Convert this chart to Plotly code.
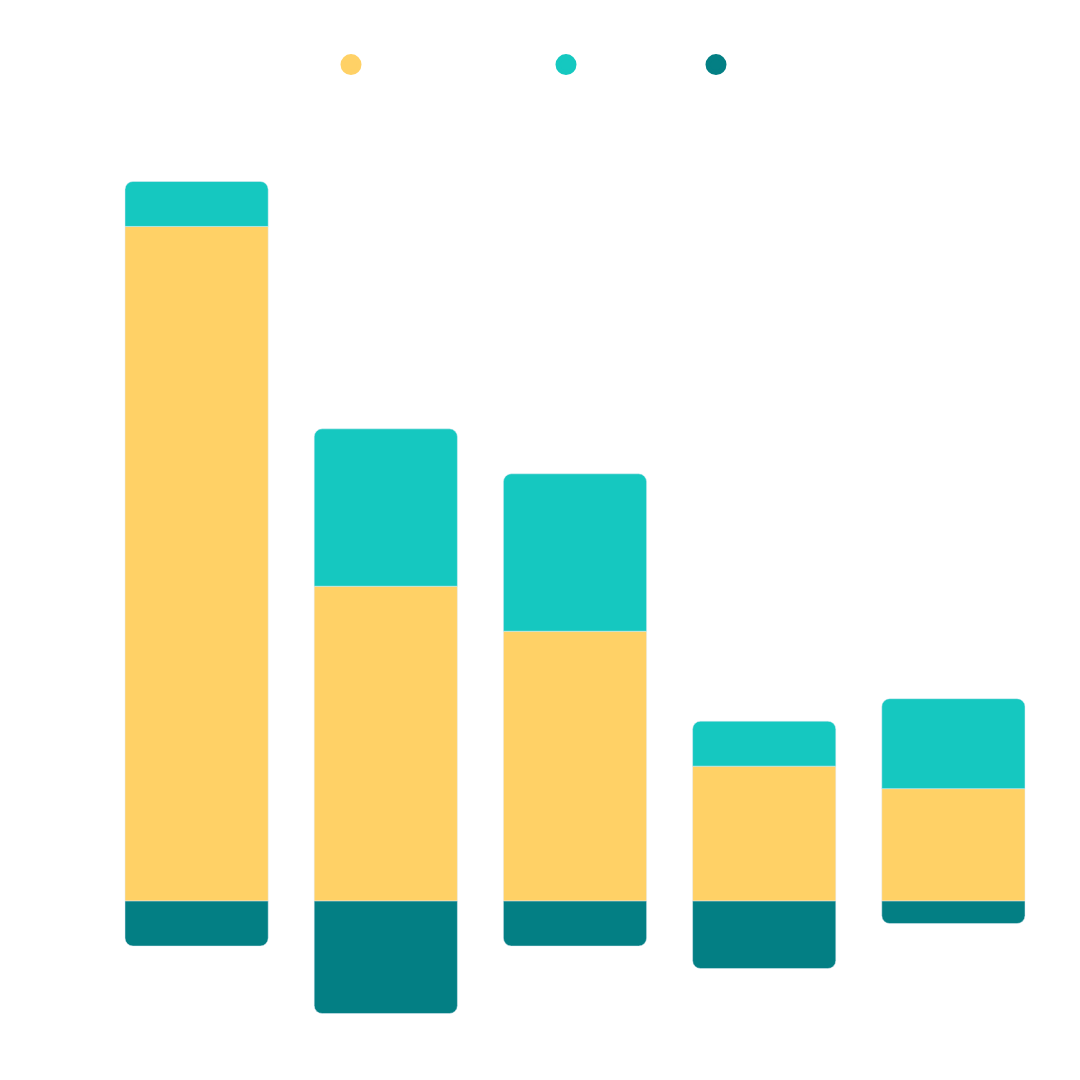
import plotly.graph_objects as go

# five groups, no labels shown in the picture
categories = ["G1", "G2", "G3", "G4", "G5"]

# series values (one unit ~ 22.5 px)
base_vals = [30, 14, 12, 6, 5]
top_vals = [2, 7, 7, 2, 4]
neg_vals = [-2, -5, -2, -3, -1]

colors = ["#FFD166", "#15C8C0", "#037F84"]
series = [base_vals, top_vals, neg_vals]
# legend dots sit at these page x positions (px), one legend per series
legend_x = [343, 558, 708]
legend_y = 57

L, R, T, B = 94, 40, 106, 52
W = H = 1080
pw, ph = W - L - R, H - T - B

fig = go.Figure()

for i, vals in enumerate(series):
    fig.add_trace(go.Bar(x=categories, y=vals, marker=dict(color=colors[i], cornerradius=8),
                         showlegend=False, hoverinfo="y"))

# dots for the legends (bars would give squares)
for i in range(3):
    lg = "legend" if i == 0 else "legend%d" % (i + 1)
    fig.add_trace(go.Scatter(x=[categories[0]], y=[None], mode="markers", name="",
                             marker=dict(color=colors[i], size=16, symbol="circle",
                                         line=dict(color=colors[i], width=5)),
                             legend=lg, showlegend=True, hoverinfo="skip"))

# legend symbol sits 20px right of the legend's left edge, centred vertically
legend_common = dict(xref="paper", yref="paper", xanchor="left", yanchor="middle",
                     y=1 + (T - legend_y) / ph, bgcolor="rgba(0,0,0,0)", borderwidth=0,
                     font=dict(family="Open Sans", size=14), itemclick=False, itemdoubleclick=False)

fig.update_layout(
    width=W, height=H,
    barmode="relative",
    bargap=0.243,
    paper_bgcolor="white", plot_bgcolor="white",
    margin=dict(l=L, r=R, t=T, b=B),
    xaxis=dict(visible=False, type="category", range=[-0.5, 4.5]),
    yaxis=dict(visible=False, range=[-6, 35]),
    legend=dict(x=(legend_x[0] - 20 - L) / pw, **legend_common),
    legend2=dict(x=(legend_x[1] - 20 - L) / pw, **legend_common),
    legend3=dict(x=(legend_x[2] - 20 - L) / pw, **legend_common),
)

fig.write_html("out.html")
